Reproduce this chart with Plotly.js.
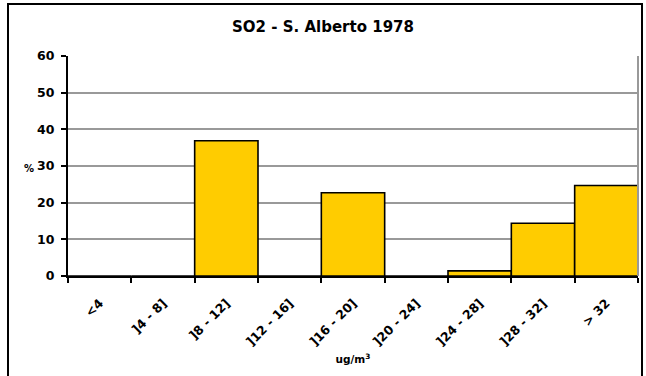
<!DOCTYPE html>
<html><head><meta charset="utf-8">
<script src="https://cdn.plot.ly/plotly-3.0.1.min.js"></script>
<style>html,body{margin:0;padding:0;background:#fff;}#chart{width:646px;height:376px;}</style>
</head><body><div id="chart"></div>
<script>
const categories = ["<4", "]4 - 8]", "]8 - 12]", "]12 - 16]", "]16 - 20]", "]20 - 24]", "]24 - 28]", "]28 - 32]", "> 32"];
const percent = [0, 0, 36.9, 0, 22.7, 0, 1.4, 14.4, 24.7];
const yTicks = [0, 10, 20, 30, 40, 50, 60];

const font = "'DejaVu Sans', Arial, sans-serif";
const L = 68, R = 8, T = 56, B = 100, W = 646, H = 376;
const pw = W - L - R, ph = H - T - B;
const px = x => (x - L) / pw;
const py = y => (H - B - y) / ph;

Plotly.newPlot('chart', [{
  type: 'bar',
  x: categories,
  y: percent,
  marker: {color: '#FFCC00', line: {color: '#000', width: 1.6}},
  hoverinfo: 'x+y'
}], {
  width: W, height: H,
  margin: {l: L, r: R, t: T, b: B},
  paper_bgcolor: '#fff', plot_bgcolor: '#fff',
  bargap: 0,
  showlegend: false,
  title: {text: '<b>SO2 - S. Alberto 1978</b>', font: {family: font, size: 15, color: '#000'}, x: 0.5, xanchor: 'center', y: 1 - 27 / H, yanchor: 'middle'},
  xaxis: {
    type: 'category',
    tickvals: categories, ticktext: categories.map(c => '<b>' + c.replace('<', '&lt;').replace('>', '&gt;') + '</b>'),
    showline: true, linecolor: '#000', linewidth: 2,
    ticks: 'outside', tickson: 'boundaries', ticklen: 5, tickwidth: 2, tickcolor: '#000',
    tickangle: -45, ticklabelstandoff: 13,
    tickfont: {family: font, size: 12.5, color: '#000'},
    showgrid: false, zeroline: false,
    title: {text: '<b>ug/m<sup>3</sup></b>', font: {family: font, size: 10.5, color: '#000'}, standoff: 8},
    automargin: false
  },
  yaxis: {
    range: [0, 60], tickvals: yTicks, ticktext: yTicks.map(v => '<b>' + v + '</b>'),
    showline: true, linecolor: '#000', linewidth: 2,
    ticks: 'outside', ticklen: 5, tickwidth: 2, tickcolor: '#000',
    ticklabelstandoff: 4,
    tickfont: {family: font, size: 12.5, color: '#000'},
    showgrid: true, gridcolor: '#999', gridwidth: 2,
    zeroline: false, automargin: false
  },
  annotations: [{
    xref: 'paper', yref: 'paper', x: px(29), y: py(168), xanchor: 'center', yanchor: 'middle',
    text: '<b>%</b>', showarrow: false, font: {family: font, size: 10, color: '#000'}
  }],
  shapes: [
    {type: 'line', xref: 'paper', yref: 'paper', x0: 1, x1: 1, y0: 0, y1: 1, line: {color: '#999', width: 2}},
    {type: 'rect', xref: 'paper', yref: 'paper', x0: px(8), x1: px(642), y0: py(4), y1: py(382), line: {color: '#000', width: 2}, fillcolor: 'rgba(0,0,0,0)'}
  ]
}, {displayModeBar: false, staticPlot: true});
</script>
</body></html>
